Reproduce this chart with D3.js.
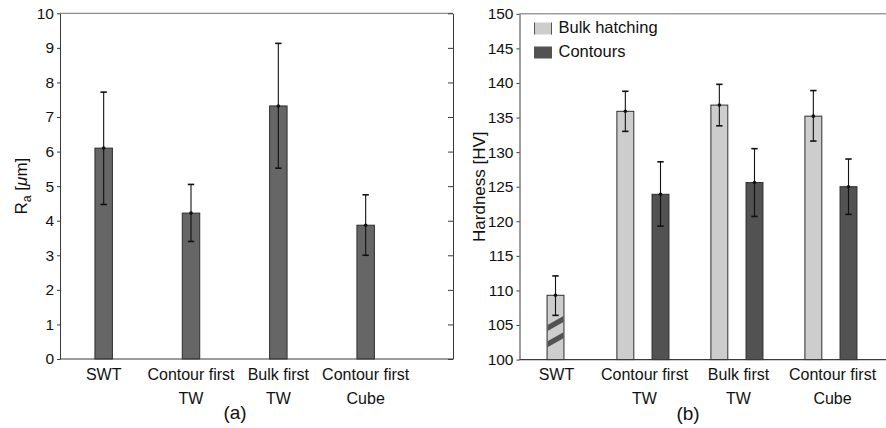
<!DOCTYPE html>
<html><head><meta charset="utf-8">
<script src="https://cdn.jsdelivr.net/npm/d3@7/dist/d3.min.js"></script>
<style>
body{margin:0;background:#fff}
svg{display:block}
text{font-family:"Liberation Sans",Arial,Helvetica,sans-serif;fill:#111}
</style>
</head><body>
<svg id="chart" width="886" height="428"></svg>
<script>
// ---- (a) surface roughness Ra ----
const categories = [["SWT"], ["Contour first", "TW"], ["Bulk first", "TW"], ["Contour first", "Cube"]];
const raMean = [6.10, 4.22, 7.32, 3.87];
const raLow  = [4.47, 3.40, 5.52, 3.00];
const raHigh = [7.72, 5.05, 9.13, 4.75];
const raTicks = d3.range(0, 11, 1);

// ---- (b) Vickers hardness ----
const hvSlots = [1, 1.93, 2.93, 3.93];
const hvBulk      = [109.3, 135.9, 136.8, 135.2];
const hvBulkLow   = [106.4, 133.0, 133.8, 131.6];
const hvBulkHigh  = [112.1, 138.8, 139.8, 138.9];
const hvContour     = [null, 123.9, 125.6, 125.0];
const hvContourLow  = [null, 119.3, 120.7, 121.0];
const hvContourHigh = [null, 128.6, 130.5, 129.0];
const hvTicks = d3.range(100, 151, 5);
const seriesNames = ["Bulk hatching", "Contours"];

const svg = d3.select("#chart");
const AXIS = "#3a3a3a", FRAME = "#707070";
const C_MID = "#666666", C_LIGHT = "#cdcdcd", C_DARK = "#525252", EDGE = "#2e2e2e";

function errorBar(g, x, y, lo, hi, v) {
  const cx = x, cap = 3.2;
  g.append("line").attr("x1", cx).attr("x2", cx).attr("y1", y(hi)).attr("y2", y(lo))
    .attr("stroke", "#111").attr("stroke-width", 1.1);
  [hi, lo].forEach(e => g.append("line").attr("x1", cx - cap).attr("x2", cx + cap)
    .attr("y1", y(e)).attr("y2", y(e)).attr("stroke", "#111").attr("stroke-width", 1.6));
  g.append("circle").attr("cx", cx).attr("cy", y(v)).attr("r", 1.8).attr("fill", "#111");
}

function categoryLabels(g, x, pos, top) {
  categories.forEach((lines, i) => {
    const t = g.append("text").attr("text-anchor", "middle").attr("font-size", 16);
    lines.forEach((s, k) => t.append("tspan").attr("x", x(pos[i])).attr("y", top + k * 23.5).text(s));
  });
}

function styleAxis(a) {
  a.selectAll("line,path").attr("stroke", AXIS);
  a.selectAll("text").attr("font-size", 15.5).attr("fill", "#111")
    .attr("font-family", '"Liberation Sans",Arial,sans-serif');
}

// ================= panel (a) =================
{
  const x = d3.scaleLinear().domain([0.5, 5]).range([60, 453]);
  const y = d3.scaleLinear().domain([0, 10]).range([359, 13.3]);
  const g = svg.append("g");
  const pos = [1, 2, 3, 4];
  const bw = x(1.2) - x(1);

  // frame: top line and mirrored right axis
  g.append("line").attr("x1", x(0.5)).attr("x2", x(5)).attr("y1", y(10)).attr("y2", y(10))
    .attr("stroke", FRAME).attr("stroke-width", 1);
  g.append("g").attr("transform", `translate(${x(5)},0)`)
    .call(d3.axisLeft(y).tickValues(raTicks).tickSize(5).tickSizeOuter(0).tickFormat(""))
    .call(a => a.selectAll("line,path").attr("stroke", AXIS));

  g.selectAll("rect.ra").data(raMean).join("rect").attr("class", "ra")
    .attr("x", (d, i) => x(pos[i]) - bw / 2).attr("width", bw)
    .attr("y", d => y(d)).attr("height", d => y(0) - y(d))
    .attr("fill", C_MID).attr("stroke", EDGE).attr("stroke-width", 1);

  raMean.forEach((v, i) => errorBar(g, x(pos[i]), y, raLow[i], raHigh[i], v));

  g.append("g").attr("transform", `translate(${x(0.5)},0)`)
    .call(d3.axisLeft(y).tickValues(raTicks).tickSize(3).tickPadding(3).tickSizeOuter(0))
    .call(styleAxis);
  g.append("line").attr("x1", x(0.5)).attr("x2", x(5)).attr("y1", y(0)).attr("y2", y(0))
    .attr("stroke", AXIS).attr("stroke-width", 1.2);

  categoryLabels(g, x, pos, 380);

  const yl = g.append("text").attr("transform", `translate(27,${(y(0) + y(10)) / 2}) rotate(-90)`)
    .attr("text-anchor", "middle").attr("font-size", 17);
  yl.append("tspan").text("R");
  yl.append("tspan").attr("font-size", 12.5).attr("dy", 4).text("a");
  yl.append("tspan").attr("dy", -4).text(" [");
  yl.append("tspan").attr("font-style", "italic").text("μ");
  yl.append("tspan").text("m]");

  g.append("text").attr("x", 235).attr("y", 419).attr("text-anchor", "middle")
    .attr("font-size", 19).text("(a)");
}

// ================= panel (b) =================
{
  const x = d3.scaleLinear().domain([0.617, 5]).range([519.5, 931.5]);
  const y = d3.scaleLinear().domain([100, 150]).range([359.6, 13.8]);
  const g = svg.append("g");
  const bw = x(1.18) - x(1);
  const off = x(1.187) - x(1);

  g.append("line").attr("x1", x(0.617)).attr("x2", 886).attr("y1", y(150)).attr("y2", y(150))
    .attr("stroke", FRAME).attr("stroke-width", 1);

  // hatching bars (light) and contour bars (dark)
  hvBulk.forEach((v, i) => {
    const cx = hvContour[i] == null ? x(hvSlots[i]) : x(hvSlots[i]) - off;
    g.append("rect").attr("x", cx - bw / 2).attr("width", bw)
      .attr("y", y(v)).attr("height", y(100) - y(v))
      .attr("fill", C_LIGHT).attr("stroke", EDGE).attr("stroke-width", 1);
    if (hvContour[i] == null) {
      // axis-break marks on the single bar
      [102.87, 105.23].forEach(m => {
        const rise = 0.65, half = 0.44;
        const xl = cx - bw / 2 + 0.5, xr = cx + bw / 2 - 0.5;
        g.append("path").attr("fill", C_DARK)
          .attr("d", `M${xl},${y(m - rise - half)}L${xr},${y(m + rise - half)}L${xr},${y(m + rise + half)}L${xl},${y(m - rise + half)}Z`);
      });
    }
    errorBar(g, cx, y, hvBulkLow[i], hvBulkHigh[i], v);
  });
  hvContour.forEach((v, i) => {
    if (v == null) return;
    const cx = x(hvSlots[i]) + off;
    g.append("rect").attr("x", cx - bw / 2).attr("width", bw)
      .attr("y", y(v)).attr("height", y(100) - y(v))
      .attr("fill", C_DARK).attr("stroke", EDGE).attr("stroke-width", 1);
    errorBar(g, cx, y, hvContourLow[i], hvContourHigh[i], v);
  });

  g.append("g").attr("transform", `translate(${x(0.617)},0)`)
    .call(d3.axisLeft(y).tickValues(hvTicks).tickSize(3).tickPadding(3).tickSizeOuter(0))
    .call(styleAxis);
  g.append("line").attr("x1", x(0.617)).attr("x2", 886).attr("y1", y(100)).attr("y2", y(100))
    .attr("stroke", AXIS).attr("stroke-width", 1.2);

  categoryLabels(g, x, hvSlots.map((s, i) => i === 0 ? s + 0.01 : s + 0.017), 380);

  g.append("text").attr("transform", `translate(485,${(y(100) + y(150)) / 2}) rotate(-90)`)
    .attr("text-anchor", "middle").attr("font-size", 17).text("Hardness [HV]");

  g.append("text").attr("x", 688).attr("y", 420).attr("text-anchor", "middle")
    .attr("font-size", 19).text("(b)");

  // legend
  const lg = g.append("g").attr("transform", "translate(534,22.5)");
  seriesNames.forEach((name, k) => {
    const row = lg.append("g").attr("transform", `translate(0,${k * 24})`);
    row.append("rect").attr("width", 18).attr("height", 12)
      .attr("fill", k === 0 ? C_LIGHT : C_DARK);
    if (k === 0) {
      row.append("line").attr("x1", 0.5).attr("x2", 0.5).attr("y1", 0).attr("y2", 12).attr("stroke", "#555");
      row.append("line").attr("x1", 17.5).attr("x2", 17.5).attr("y1", 0).attr("y2", 12).attr("stroke", "#555");
    }
    row.append("text").attr("x", 24.5).attr("y", 10.5).attr("font-size", 16.5).text(name);
  });
}
</script>
</body></html>
